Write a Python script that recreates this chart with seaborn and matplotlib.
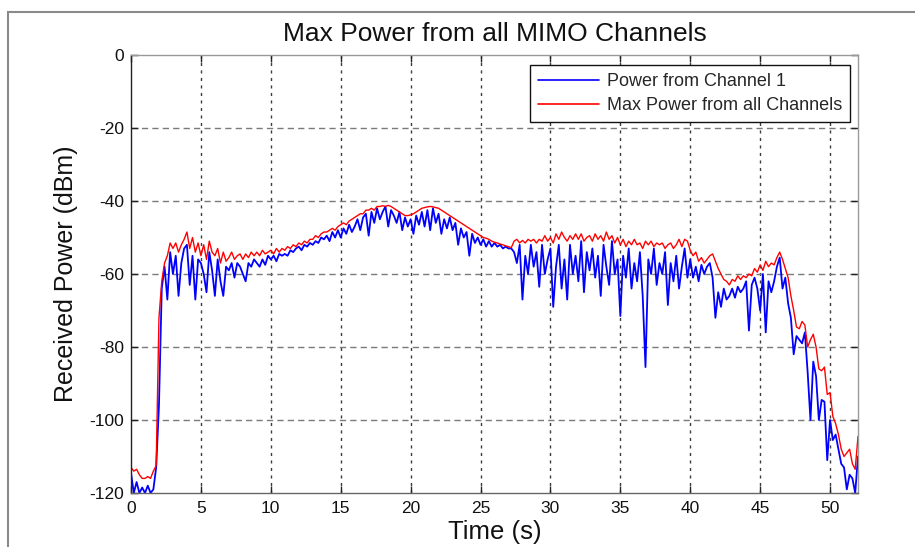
import numpy as np
import pandas as pd
import matplotlib
matplotlib.use("Agg")
import matplotlib.pyplot as plt
from matplotlib.patches import Rectangle
import seaborn as sns

TIME_STEP = 0.2

channel1_dbm = [
    -114.5, -120, -117, -120, -118.5,   # 0 s
    -120, -118, -120, -119, -113,       # 1
    -96, -64, -58, -67, -54,            # 2
    -60, -55, -66, -57, -53,            # 3
    -52, -63, -55, -67, -56,            # 4
    -57, -60, -65, -54, -59,            # 5
    -66, -56, -62, -66, -58,            # 6
    -59, -57, -61, -57, -58,            # 7
    -60, -62, -57, -58, -56,            # 8
    -57, -58, -56, -57.5, -55,          # 9
    -56, -55, -56.5, -54.5, -55,        # 10
    -54.5, -55, -53.5, -54, -53,        # 11
    -52.5, -53.5, -52, -52.5, -51.5,    # 12
    -52, -51, -51.5, -50, -50.5,        # 13
    -49.5, -51, -48.5, -50, -48,        # 14
    -50, -47.5, -49, -46.5, -48.5,      # 15
    -47, -45, -48, -44.5, -43.5,        # 16
    -49.5, -43, -46, -42, -45,          # 17
    -43, -41.5, -47, -42.5, -44,        # 18
    -46, -43, -48, -44.5, -47,          # 19
    -45, -49, -44, -46.5, -43,          # 20
    -47, -42.5, -48, -42, -46,          # 21
    -43.5, -49, -45, -47.5, -44.5,      # 22
    -48, -46, -52, -47.5, -50,          # 23
    -48.5, -55, -49, -51.5, -50,        # 24
    -52, -50.5, -52.5, -51, -52.5,      # 25
    -51.5, -52.5, -52, -53, -52.5,      # 26
    -53, -53, -54, -57, -52,            # 27
    -67, -55, -60, -52, -58,            # 28
    -54, -63.5, -52, -60, -56,          # 29
    -53, -69, -58, -52, -64,            # 30
    -56, -67, -52, -60, -55,            # 31
    -62, -51, -65, -54, -59,            # 32
    -53, -61, -55, -66, -52,            # 33
    -58, -63, -51, -60, -56,            # 34
    -71.5, -55, -61, -53, -64,          # 35
    -57, -62, -54, -66, -85.5,          # 36
    -56, -60, -53, -63, -57,            # 37
    -60, -54, -68.5, -57, -62,          # 38
    -55, -64, -58, -53, -61,            # 39
    -56, -61, -58, -62, -57.5,          # 40
    -60, -58, -57, -61, -72,            # 41
    -65, -69, -64, -67, -66,            # 42
    -64, -66.5, -63.5, -65, -64,        # 43
    -62, -75.5, -63, -61, -64,          # 44
    -70, -60, -76, -62, -65,            # 45
    -62, -58, -55.5, -64, -61,          # 46
    -68, -72, -82, -77, -78,            # 47
    -79, -76, -87, -100, -84,           # 48
    -88, -100, -94.5, -95, -111,        # 49
    -100, -105.5, -104, -108, -112,     # 50
    -113, -119, -115, -116, -120,       # 51
    -110,                               # 52
]

max_all_dbm = [
    -113, -114, -113.5, -115, -116,     # 0 s
    -116, -115.5, -116, -114, -112.5,   # 1
    -72, -62, -57, -55, -51.5,          # 2
    -53, -51.5, -54, -52, -50.5,        # 3
    -48.5, -53, -50, -54, -51.5,        # 4
    -55, -52, -56, -51, -54,            # 5
    -55, -53, -57, -54, -56.5,          # 6
    -55.5, -54, -56, -55, -54.5,        # 7
    -56, -54.5, -55.5, -54, -55,        # 8
    -54, -55, -53.5, -54.5, -54,        # 9
    -53.5, -54.5, -53, -54, -53,        # 10
    -53.5, -52.5, -53, -52, -52.5,      # 11
    -51.5, -52, -51, -51.5, -50.5,      # 12
    -50.5, -49.5, -50, -49, -48.5,      # 13
    -48.5, -48, -47.5, -48, -47,        # 14
    -46.5, -46, -46.5, -45.5, -45,      # 15
    -44.5, -44, -43.5, -43.5, -42.5,    # 16
    -42.5, -42, -42.5, -41.5, -41.5,    # 17
    -41.3, -41.5, -41.2, -41.5, -42,    # 18
    -42.5, -43, -43.5, -44, -44,        # 19
    -43.8, -43.5, -43, -42.5, -42,      # 20
    -41.8, -41.6, -41.5, -41.6, -41.8,  # 21
    -42, -42.5, -43, -43.5, -44,        # 22
    -44.5, -45, -45.5, -46, -46.5,      # 23
    -47, -47.5, -48, -48.5, -49,        # 24
    -49.5, -50, -50.2, -50.5, -51,      # 25
    -51.3, -51.5, -51.8, -52, -52.3,    # 26
    -52.5, -52.8, -51, -50.5, -51.5,    # 27
    -50.8, -51.5, -50.5, -51, -50.5,    # 28
    -51.5, -50.5, -51, -49.5, -51,      # 29
    -50, -51.5, -49, -50.5, -48.5,      # 30
    -50, -51, -49.5, -50.5, -49,        # 31
    -50.5, -49, -51, -50, -49.5,        # 32
    -51, -49, -50.5, -49.5, -51,        # 33
    -48.5, -50.5, -49.5, -51.5, -50,    # 34
    -52, -50.5, -52.5, -51, -52,        # 35
    -50.5, -52, -51.5, -53, -51,        # 36
    -52, -51, -52.5, -51.5, -52,        # 37
    -51.5, -53, -52, -51.5, -53,        # 38
    -52, -50.5, -52.5, -50.5, -51,      # 39
    -53.5, -55, -54, -56.5, -55.5,      # 40
    -57, -56, -55, -54.5, -56.5,        # 41
    -58.5, -60, -61.5, -62, -63,        # 42
    -61.5, -62, -60.5, -61.5, -60.5,    # 43
    -61, -60, -60.5, -58.5, -59.5,      # 44
    -57.5, -59, -56.5, -58, -57,        # 45
    -57.5, -55.5, -54, -56, -58.5,      # 46
    -61, -66, -70, -74.5, -75,          # 47
    -73, -74, -80, -78, -76.5,          # 48
    -80, -86, -86.5, -85.5, -93,        # 49
    -92.5, -99, -101, -104, -108,       # 50
    -110, -109, -108, -112, -113.5,     # 51
    -104.5,                             # 52
]

x_ticks = [0, 5, 10, 15, 20, 25, 30, 35, 40, 45, 50]
y_ticks = [0, -20, -40, -60, -80, -100, -120]
series_labels = ["Power from Channel 1", "Max Power from all Channels"]
title_text = "Max Power from all MIMO Channels"
x_label = "Time (s)"
y_label = "Received Power (dBm)"

assert len(channel1_dbm) == len(max_all_dbm)
time_s = np.round(np.arange(len(max_all_dbm)) * TIME_STEP, 3)

df = pd.DataFrame({"t": time_s, "ch1": channel1_dbm, "mx": max_all_dbm})

# ---------------- styling ----------------
sns.set_theme(style="white")
plt.rcParams["font.family"] = ["Liberation Sans", "DejaVu Sans"]

W, H = 915, 547
fig = plt.figure(figsize=(W / 100, H / 100), dpi=100, facecolor="white")

# outer figure frame (MATLAB window border)
fig.patches.append(Rectangle((8 / W, -0.2), 1.5, 1.2 - 12 / H,
                             transform=fig.transFigure, fill=False,
                             edgecolor="#8a8a8a", linewidth=1.5, zorder=0))

ax_l, ax_r, ax_t, ax_b = 131, 858, 55, 493
ax = fig.add_axes([ax_l / W, 1 - ax_b / H, (ax_r - ax_l) / W, (ax_b - ax_t) / H])
ax.set_facecolor("white")

sns.lineplot(data=df, x="t", y="ch1", ax=ax, color="#0000ff", linewidth=1.3,
             estimator=None, sort=False, label=series_labels[0])
sns.lineplot(data=df, x="t", y="mx", ax=ax, color="#ff0000", linewidth=1.0,
             estimator=None, sort=False, label=series_labels[1])

ax.set_xlim(0, 52)
ax.set_ylim(-120, 0)
ax.set_xticks(x_ticks)
ax.set_yticks(y_ticks)
ax.set_xticklabels([str(v) for v in x_ticks])
ax.set_yticklabels([str(v) for v in y_ticks])

ax.tick_params(axis="both", which="both", direction="in", length=5, width=1,
               colors="#222222", labelsize=12.5, top=True, right=True,
               bottom=True, left=True, labelcolor="#111111")
ax.tick_params(axis="x", pad=6)
ax.tick_params(axis="y", pad=5)

# grid (MATLAB dotted style)
for xv in x_ticks[1:]:
    ax.axvline(xv, color="#3c3c3c", linewidth=1.0, linestyle=(0, (2.2, 3.2)), zorder=0.5)
for yv in y_ticks[1:-1]:
    ax.axhline(yv, color="#7a7a7a", linewidth=1.0, linestyle=(0, (4.5, 3.0)), zorder=0.5)

for side, col in [("left", "#222222"), ("bottom", "#666666"),
                  ("top", "#9a9a9a"), ("right", "#9a9a9a")]:
    ax.spines[side].set_visible(True)
    ax.spines[side].set_color(col)
    ax.spines[side].set_linewidth(1.0)

ax.set_title(title_text, fontsize=19, color="#111111", pad=10)
ax.set_xlabel(x_label, fontsize=18.5, color="#111111", labelpad=3)
ax.set_ylabel(y_label, fontsize=18, color="#111111", labelpad=8)

leg_right = (850 - ax_l) / (ax_r - ax_l)
leg_top = (ax_b - 65) / (ax_b - ax_t)
leg = ax.legend(loc="upper right", bbox_to_anchor=(leg_right, leg_top),
                borderaxespad=0, fontsize=13, frameon=True, fancybox=False,
                framealpha=1, edgecolor="#111111", handlelength=3.4,
                handletextpad=0.4, labelspacing=0.38, borderpad=0.45)
leg.get_frame().set_linewidth(1.0)
for h in leg.get_lines():
    h.set_linewidth(1.2)

fig.savefig("out.png", dpi=100, facecolor="white")
